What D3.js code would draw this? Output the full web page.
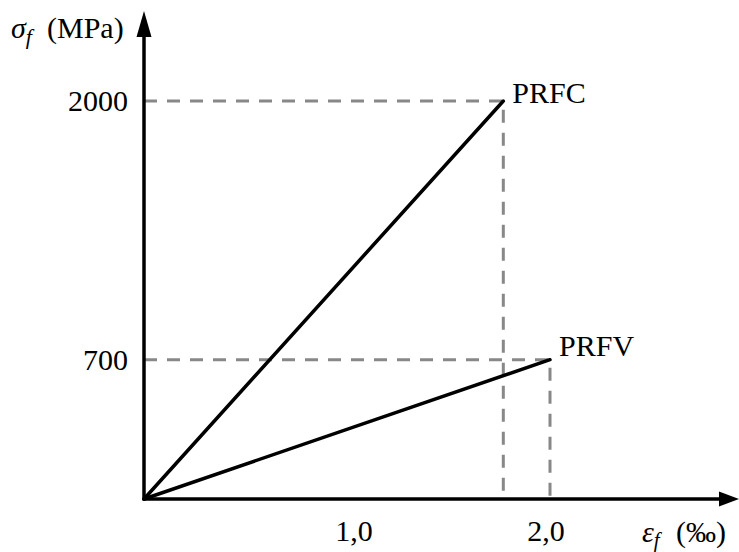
<!DOCTYPE html>
<html>
<head>
<meta charset="utf-8">
<script src="https://cdn.jsdelivr.net/npm/d3@7"></script>
<style>
  body { margin: 0; background: #fff; }
  text { font-family: "Liberation Serif", "Times New Roman", serif; }
</style>
</head>
<body>
<svg id="chart" width="739" height="552"></svg>
<script>
// data
var materials = ["PRFC", "PRFV"];
var strains = [1.77, 2.0];      // ‰
var stresses = [2000, 700];     // MPa
var xTicks = [1, 2];
var xTickLabels = ["1,0", "2,0"];
var yTicks = [2000, 700];

var svg = d3.select("#chart");

var x = d3.scaleLinear().domain([0, 2]).range([144, 550]);
var y = d3.scaleLinear().domain([0, 2000]).range([499, 101]);

// dashed guides
var guides = svg.append("g")
    .attr("fill", "none")
    .attr("stroke", "#888")
    .attr("stroke-width", 3)
    .attr("stroke-dasharray", "13,10");

materials.forEach(function(m, i) {
  guides.append("path")
    .attr("d", d3.line()([[x(0), y(stresses[i])], [x(strains[i]), y(stresses[i])], [x(strains[i]), y(0)]]));
});

// axes
var axes = svg.append("g").attr("stroke", "#000").attr("stroke-width", 3.5);
axes.append("line").attr("x1", x(0)).attr("x2", 722).attr("y1", y(0)).attr("y2", y(0));
axes.append("line").attr("x1", x(0)).attr("x2", x(0)).attr("y1", y(0) + 1.5).attr("y2", 34);

svg.append("path")
  .attr("d", "M" + (x(0) - 7.5) + ",37 L" + x(0) + ",11 L" + (x(0) + 7.5) + ",37 Z")
  .attr("fill", "#000");
svg.append("path")
  .attr("d", "M719," + (y(0) - 7.5) + " L739," + y(0) + " L719," + (y(0) + 7.5) + " Z")
  .attr("fill", "#000");

// material lines
svg.append("g")
  .selectAll("line")
  .data(materials)
  .enter().append("line")
    .attr("x1", x(0))
    .attr("y1", y(0))
    .attr("x2", function(d, i) { return x(strains[i]); })
    .attr("y2", function(d, i) { return y(stresses[i]); })
    .attr("stroke", "#000")
    .attr("stroke-width", 3.5)
    .attr("stroke-linecap", "round");

svg.append("g")
  .selectAll("text")
  .data(materials)
  .enter().append("text")
    .attr("x", function(d, i) { return x(strains[i]) + 9; })
    .attr("y", function(d, i) { return y(stresses[i]) + 2 - (i == 1 ? 6 : 0); })
    .attr("font-size", 30)
    .text(function(d) { return d; });

// tick labels
svg.append("g")
  .selectAll("text")
  .data(yTicks)
  .enter().append("text")
    .attr("x", 128)
    .attr("y", function(d) { return y(d); })
    .attr("dy", "0.33em")
    .attr("text-anchor", "end")
    .attr("font-size", 30)
    .text(function(d) { return d; });

svg.append("g")
  .selectAll("text")
  .data(xTicks)
  .enter().append("text")
    .attr("x", function(d) { return x(d) + (d == 1 ? 7 : -4); })
    .attr("y", 541)
    .attr("text-anchor", "middle")
    .attr("font-size", 30)
    .text(function(d, i) { return xTickLabels[i]; });

// axis titles
var yt = svg.append("text").attr("x", 11).attr("y", 38).attr("font-size", 30);
yt.append("tspan").attr("font-style", "italic").text("σ");
yt.append("tspan").attr("font-style", "italic").attr("font-size", 22).attr("dy", 6).text("f");
yt.append("tspan").attr("dy", -6).attr("x", 47).text("(MPa)");

var xt = svg.append("text").attr("x", 642).attr("y", 542).attr("font-size", 30);
xt.append("tspan").attr("font-style", "italic").text("ε");
xt.append("tspan").attr("font-style", "italic").attr("font-size", 21).attr("dy", 5).text("f");
xt.append("tspan").attr("dy", -5).attr("x", 676).text("(‰)");
</script>
</body>
</html>
